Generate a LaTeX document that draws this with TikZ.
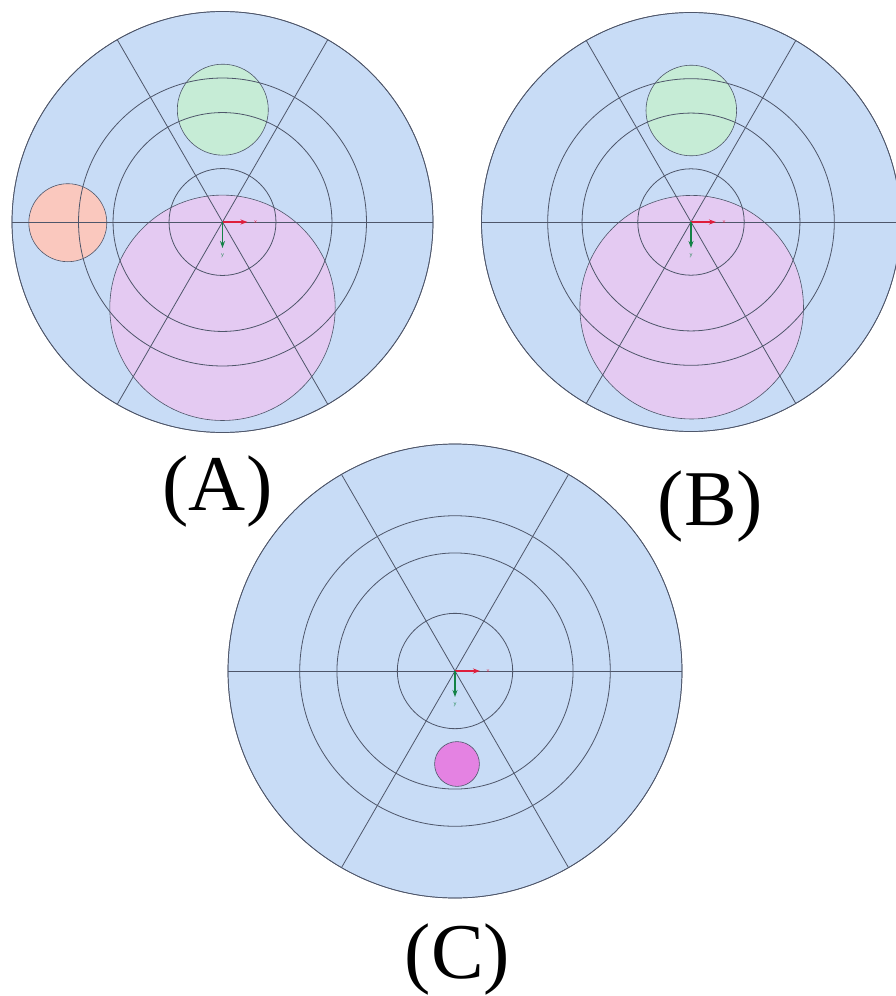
\documentclass[tikz,border=0pt]{standalone}
\usepackage{fontspec}
\setmainfont{Liberation Serif}
\usetikzlibrary{arrows.meta}
\definecolor{discblue}{RGB}{200,220,246}
\definecolor{discline}{RGB}{78,86,106}
\definecolor{blobgreen}{RGB}{198,236,214}
\definecolor{blobsalmon}{RGB}{250,200,190}
\definecolor{blobviolet}{RGB}{228,202,242}
\definecolor{blobmagenta}{RGB}{228,130,226}
\definecolor{axred}{RGB}{222,30,60}
\definecolor{axgreen}{RGB}{20,130,70}
\tikzset{
  disc/.style={fill=discblue, draw=discline, line width=0.7pt},
  ring/.style={draw=discline, line width=0.8pt},
  blob/.style={draw=discline, line width=0.6pt},
  caption/.style={font=\fontsize{79}{79}\selectfont, anchor=base, inner sep=0pt},
  axlabel/.style={font=\fontsize{6}{6}\selectfont\sffamily, inner sep=0pt},
  xaxis/.style={draw=axred, line width=1.3pt, -{Stealth[length=7pt,width=5pt]}},
  yaxis/.style={draw=axgreen, line width=1.3pt, -{Stealth[length=7pt,width=5pt]}},
}
\newcommand{\polargrid}[2]{% #1 centre name, #2 outer radius (pt)
  \draw[ring] (#1) circle[radius={0.254*#2pt}];
  \draw[ring] (#1) circle[radius={0.52*#2pt}];
  \draw[ring] (#1) circle[radius={0.684*#2pt}];
  \draw[ring] (#1) ++(-#2pt,0pt) -- ++({2*#2pt},0pt);
  \draw[ring] (#1) ++(60:#2pt) -- ++(240:{2*#2pt});
  \draw[ring] (#1) ++(120:#2pt) -- ++(300:{2*#2pt});
  \draw[disc, fill=none] (#1) circle[radius=#2pt];
}
\newcommand{\axesglyph}[1]{% #1 centre name
  \coordinate (#1-xe) at ([xshift=25pt]#1);
  \coordinate (#1-ye) at ([yshift=-26pt]#1);
  \draw[xaxis] (#1) -- (#1-xe);
  \draw[yaxis] (#1) -- (#1-ye);
  \node[axlabel, text=axred] (#1-xl) at ([xshift=33pt]#1) {x};
  \node[axlabel, text=axgreen] (#1-yl) at ([yshift=-34pt]#1) {y};
}
\begin{document}
\begin{tikzpicture}[x=1pt, y=-1pt]
  \useasboundingbox (0,0) rectangle (896,996);
  \fill[white] (0,0) rectangle (896,996);

  % ---- (A)
  \coordinate (cA) at (222.5,222);
  \draw[disc] (cA) circle[radius=210.5pt];
  \draw[blob, fill=blobgreen] (222.8,109.7) circle[radius=45.5pt];
  \draw[blob, fill=blobsalmon] (67.8,222.7) circle[radius=39pt];
  \draw[blob, fill=blobviolet] (222.5,307.8) circle[radius=112.7pt];
  \polargrid{cA}{210.5}
  \axesglyph{cA}
  \node[caption] (lA) at (217.5,510) {(A)};

  % ---- (B)
  \coordinate (cB) at (691,222);
  \draw[disc] (cB) circle[radius=209.5pt];
  \draw[blob, fill=blobgreen] (691.3,110.5) circle[radius=45.3pt];
  \draw[blob, fill=blobviolet] (691.7,307.2) circle[radius=111.8pt];
  \polargrid{cB}{209.5}
  \axesglyph{cB}
  \node[caption] (lB) at (710.5,525) {(B)};

  % ---- (C)
  \coordinate (cC) at (455,671);
  \draw[disc] (cC) circle[radius=227pt];
  \draw[blob, fill=blobmagenta] (457,764) circle[radius=22.4pt];
  \polargrid{cC}{227}
  \axesglyph{cC}
  \node[caption] (lC) at (457.5,978) {(C)};
\end{tikzpicture}
\end{document}
